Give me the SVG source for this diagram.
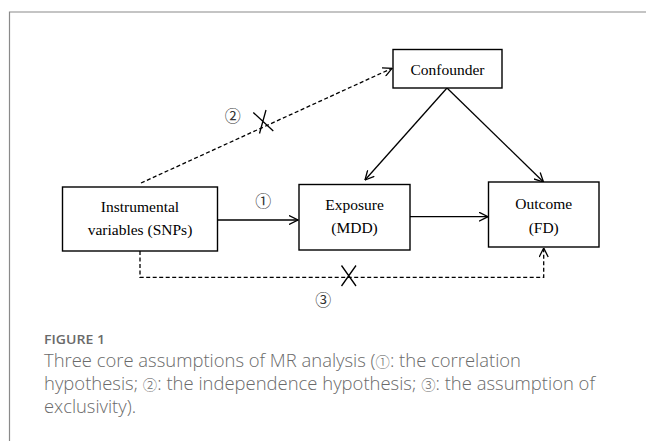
<svg xmlns="http://www.w3.org/2000/svg" width="646" height="441" viewBox="0 0 646 441">
  <style>
    .box { fill: #ffffff; stroke: #000000; stroke-width: 1.4; }
    .lbl { font-family: "Liberation Serif", "Times New Roman", serif; font-size: 15.5px; fill: #000000; text-anchor: middle; }
    .num { font-family: "Noto Sans CJK SC", "DejaVu Sans", sans-serif; font-size: 16px; fill: #333333; text-anchor: middle; }
    .edge { fill: none; stroke: #000000; stroke-width: 1.3; }
    .dash { stroke-dasharray: 4 2.5; }
    .cap { font-family: "Open Sans", "Liberation Sans", sans-serif; fill: #6a6a6a; }
    .cn { font-family: "Noto Sans CJK SC", "DejaVu Sans", sans-serif; font-weight: 300; font-size: 14px; }
  </style>
  <defs>
    <marker id="arr" viewBox="0 0 10 10" refX="9.5" refY="5" markerWidth="10" markerHeight="10" markerUnits="userSpaceOnUse" orient="auto">
      <path d="M0.5,0.5 L9.5,5 L0.5,9.5" fill="none" stroke="#000000" stroke-width="1.3"/>
    </marker>
  </defs>

  <!-- frame -->
  <path d="M646,12 H9.5 V441" fill="none" stroke="#8a8a8a" stroke-width="1.2"/>

  <!-- connectors -->
  <g id="connectors">
    <line class="edge" x1="217.5" y1="220" x2="298" y2="220" marker-end="url(#arr)"/>
    <line class="edge" x1="410" y1="216.7" x2="488" y2="216.7" marker-end="url(#arr)"/>
    <line class="edge" x1="447" y1="88" x2="365" y2="180" marker-end="url(#arr)"/>
    <line class="edge" x1="447" y1="88" x2="543.5" y2="182" marker-end="url(#arr)"/>
    <line class="edge dash" x1="141" y1="183" x2="392" y2="68.3" marker-end="url(#arr)"/>
    <path class="edge dash" d="M140,251 V277.3 H543.7 V248" marker-end="url(#arr)"/>
    <path class="edge" d="M253.3,112.5 L273.3,131 M266,110 L259.5,133.5"/>
    <path class="edge" d="M341.5,265.5 L356,286 M356,265.5 L341.5,286"/>
    <text class="num" x="232.7" y="122">②</text>
    <text class="num" x="263.3" y="206.5">①</text>
    <text class="num" x="323.3" y="306">③</text>
  </g>

  <g id="confounder">
    <rect class="box" x="393" y="49.5" width="109" height="38.5"/>
    <text class="lbl" x="447.5" y="75">Confounder</text>
  </g>

  <g id="instrumental">
    <rect class="box" x="62.5" y="187" width="155" height="64"/>
    <text class="lbl" x="140" y="212">Instrumental</text>
    <text class="lbl" x="140" y="235">variables (SNPs)</text>
  </g>

  <g id="exposure">
    <rect class="box" x="299" y="184.5" width="111" height="65.5"/>
    <text class="lbl" x="354.5" y="210">Exposure</text>
    <text class="lbl" x="354.5" y="233">(MDD)</text>
  </g>

  <g id="outcome">
    <rect class="box" x="488.5" y="182" width="110.5" height="65"/>
    <text class="lbl" x="543.7" y="209">Outcome</text>
    <text class="lbl" x="543.7" y="232.5">(FD)</text>
  </g>

  <!-- caption -->
  <text class="cap" x="44" y="343.5" font-size="13" font-weight="600" textLength="61" lengthAdjust="spacingAndGlyphs">FIGURE 1</text>
  <text class="cap" x="44" y="366.5" font-size="18" font-weight="300" textLength="477" lengthAdjust="spacingAndGlyphs">Three core assumptions of MR analysis (<tspan class="cn">①</tspan>: the correlation</text>
  <text class="cap" x="44" y="389.5" font-size="18" font-weight="300" textLength="551" lengthAdjust="spacingAndGlyphs">hypothesis; <tspan class="cn">②</tspan>: the independence hypothesis; <tspan class="cn">③</tspan>: the assumption of</text>
  <text class="cap" x="44" y="412.5" font-size="18" font-weight="300" textLength="92" lengthAdjust="spacingAndGlyphs">exclusivity).</text>
</svg>
